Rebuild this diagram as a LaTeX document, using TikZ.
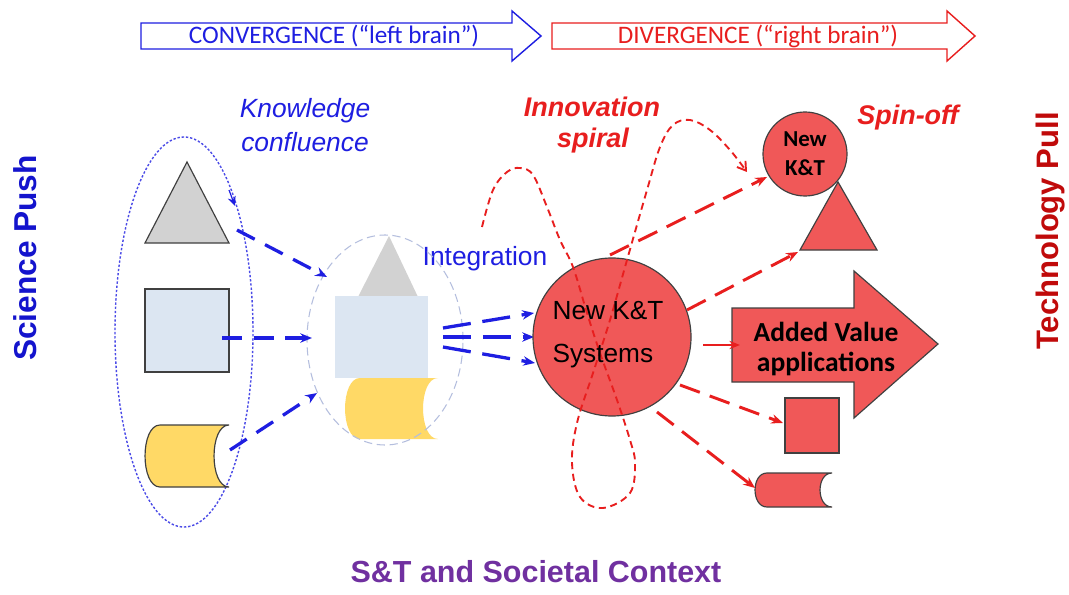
\documentclass[tikz,border=0pt]{standalone}
\usepackage{fontspec}
\setmainfont{Liberation Sans}
\newfontfamily\carlito{Carlito}
\usetikzlibrary{arrows.meta}
\definecolor{kred}{RGB}{240,88,88}
\definecolor{dred}{RGB}{232,30,30}
\definecolor{kblue}{RGB}{30,30,225}
\definecolor{kgrey}{RGB}{210,210,210}
\definecolor{klblue}{RGB}{220,230,242}
\definecolor{kyellow}{RGB}{255,217,102}
\definecolor{kpurple}{RGB}{112,48,160}
\definecolor{tpull}{RGB}{192,10,10}
\definecolor{sciblue}{RGB}{20,20,205}
\definecolor{ellgrey}{RGB}{180,190,222}
\newcommand\mycyl[6]{%
\path[#6] ({#1+#5},#3) -- (#2,#3) .. controls ({#2-1.33*#5},#3) and ({#2-1.33*#5},#4) .. (#2,#4) -- ({#1+#5},#4) .. controls ({#1-0.33*#5},#4) and ({#1-0.33*#5},#3) .. ({#1+#5},#3) -- cycle;}
\tikzset{
 shp/.style={draw=black!75, line width=1pt},
 bdash/.style={kblue, line width=2.8pt, dash pattern=on 17pt off 10pt, -{Stealth[length=10pt,width=8pt]}},
 rdash/.style={dred, line width=2.5pt, dash pattern=on 18pt off 9pt, -{Stealth[length=10pt,width=8pt]}},
 titlearrow/.style={line width=1.2pt, fill=white},
}
\begin{document}
\begin{tikzpicture}[x=0.03cm,y=-0.03cm]
\useasboundingbox[fill=white] (0,0) rectangle (1069,595);

% top arrows
\draw[titlearrow, draw=kblue] (141,23) -- (512,23) -- (512,11) -- (541,36) -- (512,61) -- (512,49) -- (141,49) -- cycle;
\node[kblue, font=\carlito\fontsize{21.5}{24}\selectfont] (conv) at (334,36) {CONVERGENCE (“left brain”)};
\draw[titlearrow, draw=dred] (552,23) -- (947,23) -- (947,11) -- (975,36) -- (947,61) -- (947,49) -- (552,49) -- cycle;
\node[dred, font=\carlito\fontsize{21.5}{24}\selectfont] (div) at (758,36) {DIVERGENCE (“right brain”)};

% side and bottom labels
\node[sciblue, rotate=90, anchor=base, font=\bfseries\fontsize{27}{30}\selectfont] (sci) at (36,258) {Science Push};
\node[tpull, rotate=90, anchor=base, font=\bfseries\fontsize{26.5}{30}\selectfont] (tech) at (1058,231) {Technology Pull};
\node[kpurple, anchor=base, font=\bfseries\fontsize{26}{30}\selectfont] (ctx) at (536,582) {S\&T and Societal Context};

% headings
\node[kblue, anchor=base, font=\itshape\fontsize{22.5}{26}\selectfont] (kn1) at (305,118) {Knowledge};
\node[kblue, anchor=base, font=\itshape\fontsize{22.5}{26}\selectfont] (kn2) at (305,152) {confluence};
\node[dred, anchor=base, font=\bfseries\itshape\fontsize{23}{26}\selectfont] (in1) at (592,117) {Innovation};
\node[dred, anchor=base, font=\bfseries\itshape\fontsize{23}{26}\selectfont] (in2) at (593,148) {spiral};
\node[dred, anchor=base, font=\bfseries\itshape\fontsize{23}{26}\selectfont] (spin) at (908,125) {Spin-off};
\node[kblue, anchor=base, font=\fontsize{22.5}{26}\selectfont] (integ) at (485,265) {Integration};

% left group
\draw[kblue!80, line width=1.2pt, dash pattern=on 2pt off 1.6pt] (184,332) ellipse [x radius=2.07cm, y radius=5.85cm];
\coordinate (ellA) at (229,190);
\coordinate (ellB) at (235,206);
\draw[kblue, line width=1pt, -{Stealth[length=8pt,width=7pt]}] (ellA) -- (ellB);
\path[shp, fill=kgrey] (187,162) -- (229,243) -- (145,243) -- cycle;
\node[shp, fill=klblue, minimum width=2.52cm, minimum height=2.49cm, inner sep=0pt] (sqL) at (187,330.5) {};
\mycyl{145}{229}{425}{487}{15}{shp, fill=kyellow}

% middle group
\path[fill=kgrey] (389,236) -- (418,297) -- (358,297) -- cycle;
\node[fill=klblue, minimum width=2.79cm, minimum height=2.46cm, inner sep=0pt] (sqM) at (381.5,337) {};
\mycyl{345}{438}{378}{439}{15}{fill=kyellow}
\draw[ellgrey, line width=0.9pt, dash pattern=on 7pt off 4pt] (385,340) ellipse [x radius=2.34cm, y radius=3.15cm];

% blue arrows
\coordinate (b1s) at (237,230); \coordinate (b1e) at (327,277);
\coordinate (b2s) at (222,338); \coordinate (b2e) at (312,338);
\coordinate (b3s) at (230,450); \coordinate (b3e) at (317,393);
\draw[bdash] (b1s) -- (b1e);
\draw[bdash] (b2s) -- (b2e);
\draw[bdash] (b3s) -- (b3e);
\coordinate (m1s) at (443,328); \coordinate (m1e) at (534,313);
\coordinate (m2s) at (443,337); \coordinate (m2e) at (534,337);
\coordinate (m3s) at (443,347); \coordinate (m3e) at (535,363);
\draw[bdash, dash pattern=on 24pt off 10pt] (m1s) -- (m1e);
\draw[bdash, dash pattern=on 24pt off 10pt] (m2s) -- (m2e);
\draw[bdash, dash pattern=on 24pt off 10pt] (m3s) -- (m3e);

% central circle
\node[shp, circle, fill=kred, minimum size=4.74cm, inner sep=0pt] (sys) at (612,337) {};

% right group
\node[shp, circle, fill=kred, minimum size=2.52cm, inner sep=0pt, align=center, font=\carlito\bfseries\fontsize{19.5}{24.5}\selectfont] (nkt) at (805,154) {New\\K\&T};
\path[shp, fill=kred] (838,182) -- (877,250) -- (800,250) -- cycle;
\path[shp, fill=kred] (732,308) -- (854,308) -- (854,271) -- (938,344) -- (854,418) -- (854,382) -- (732,382) -- cycle;
\node[align=center, font=\carlito\bfseries\fontsize{23.5}{25.5}\selectfont] (avt) at (826,349) {Added Value\\applications};
\node[shp, fill=kred, minimum width=1.62cm, minimum height=1.65cm, inner sep=0pt] (sqR) at (812,425.5) {};
\mycyl{755}{832}{473}{507}{12}{shp, fill=kred}

% red arrows
\coordinate (r1s) at (610,255); \coordinate (r1e) at (767,177);
\coordinate (r2s) at (687,310); \coordinate (r2e) at (798,252);
\coordinate (r3s) at (703,345); \coordinate (r3e) at (740,345);
\coordinate (r4s) at (680,385); \coordinate (r4e) at (783,423);
\coordinate (r5s) at (657,412); \coordinate (r5e) at (755,488);
\draw[rdash] (r1s) -- (r1e);
\draw[rdash] (r2s) -- (r2e);
\draw[dred, line width=1.6pt, -{Stealth[length=9pt,width=7pt]}] (r3s) -- (r3e);
\draw[rdash] (r4s) -- (r4e);
\draw[rdash] (r5s) -- (r5e);

% innovation spiral
\draw[dred, line width=1.6pt, dash pattern=on 6pt off 4pt, -{Straight Barb[length=7pt,width=9pt]}]
 plot[smooth, tension=0.6] coordinates {(482,227) (493,190) (507,172) (520,168) (533,175) (547,207) (560,240) (573,267) (587,313) (600,353) (617,400) (630,440) (635,463) (630,493) (603,508) (580,497) (572,463) (577,423) (593,373) (610,320) (627,260) (647,190) (660,147) (673,125) (690,120) (710,130) (730,150) (747,172)};

% circle text
\node[align=left, font=\fontsize{22.4}{36.5}\selectfont] (systxt) at (608,335) {New K\&T\\Systems};
\end{tikzpicture}
\end{document}
